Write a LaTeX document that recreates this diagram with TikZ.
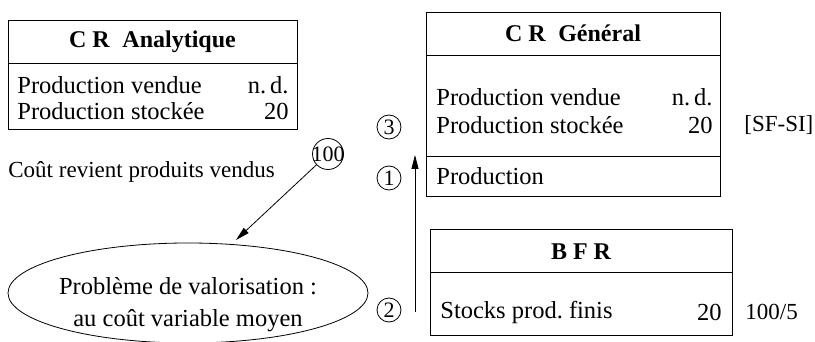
\documentclass[tikz,border=0pt]{standalone}
\usepackage{fontspec}
\setmainfont{Liberation Serif}
\usetikzlibrary{arrows.meta,shapes.geometric}
\begin{document}
\begin{tikzpicture}[x=1pt,y=-1pt, line width=0.8pt,
  every node/.style={font=\fontsize{24.5}{28}\selectfont, inner sep=0pt},
  frame/.style={draw, rectangle, anchor=north west},
  lbl/.style={anchor=west},
  val/.style={anchor=east},
  side/.style={anchor=west, font=\fontsize{23}{26}\selectfont},
  ttl/.style={font=\fontsize{24}{28}\selectfont\bfseries},
  num/.style={draw, circle, minimum size=24pt, inner sep=0pt, font=\fontsize{22}{22}\selectfont},
  arr/.style={-{Triangle[length=14pt,width=7pt]}}]
\useasboundingbox (0,0) rectangle (815,342);

% CR Analytique
\node[frame, minimum width=289pt, minimum height=109pt] (cra) at (8,20) {};
\draw (8,63) -- (297,63);
\node[ttl] (craT) at (152.5,42) {C R\; Analytique};
\node[lbl] (cra1) at (17,85) {Production vendue};
\node[val] (cra1v) at (289,85) {n.\,d.};
\node[lbl] (cra2) at (17,111) {Production stockée};
\node[val] (cra2v) at (289,111) {20};

% CR General
\node[frame, minimum width=294pt, minimum height=184pt] (crg) at (426,12) {};
\draw (426,55) -- (720,55);
\draw (426,156) -- (720,156);
\node[ttl] (crgT) at (573,33) {C R\; Général};
\node[lbl] (crg1) at (436,97) {Production vendue};
\node[val] (crg1v) at (713,97) {n.\,d.};
\node[lbl] (crg2) at (436,125) {Production stockée};
\node[val] (crg2v) at (713,125) {20};
\node[lbl] (crg3) at (436,176) {Production};
\node[side] (sfsi) at (744,125) {[SF-SI]};

% BFR
\node[frame, minimum width=302pt, minimum height=106pt] (bfr) at (430,229) {};
\draw (430,272) -- (732,272);
\node[ttl] (bfrT) at (581,252) {B F R};
\node[lbl] (bfr1) at (440,312) {Stocks prod.\ finis};
\node[val] (bfr1v) at (722,312) {20};
\node[side] (cent) at (745,312) {100/5};

% circled numbers
\node[num] (n3) at (389,127) {3};
\node[num] (n1) at (389,178) {1};
\node[num] (n2) at (389,310) {2};
\coordinate (aB) at (415,312);
\coordinate (aT) at (415,155);
\draw[arr] (aB) -- (aT);

% left part
\node[side] (cout) at (8,172) {Coût revient produits vendus};
\node[draw, circle, minimum size=31pt, inner sep=0pt, font=\fontsize{22}{22}\selectfont] (c100) at (328,154) {\makebox[0pt]{100}};
\coordinate (tip) at (236,240);
\draw[arr] (c100) -- (tip);

\node[draw, ellipse, minimum width=360pt, minimum height=100pt] (ell) at (188,293) {};
\node[align=center, font=\fontsize{24.5}{32}\selectfont] (ellT) at (188,305) {Problème de valorisation :\\au coût variable moyen};
\end{tikzpicture}
\end{document}
